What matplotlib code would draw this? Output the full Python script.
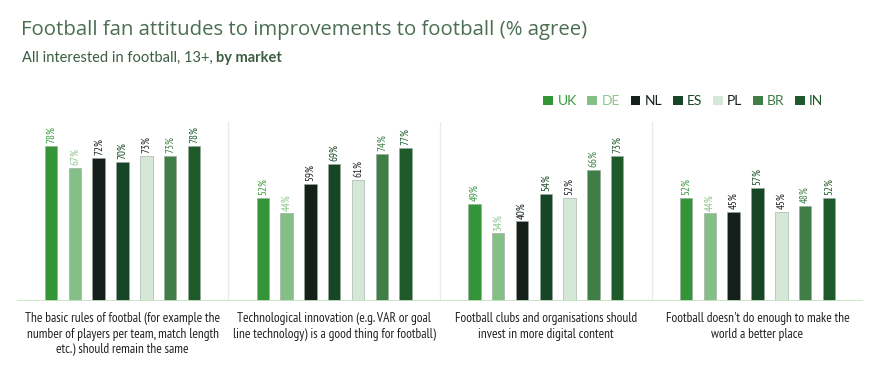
import matplotlib
matplotlib.use("Agg")
import matplotlib.pyplot as plt
from matplotlib import font_manager
import numpy as np

markets = ["UK", "DE", "NL", "ES", "PL", "BR", "IN"]
categories = [
    "The basic rules of footbal (for example the\nnumber of players per team, match length\netc.) should remain the same",
    "Technological innovation (e.g. VAR or goal\nline technology) is a good thing for football)",
    "Football clubs and organisations should\ninvest in more digital content",
    "Football doesn't do enough to make the\nworld a better place",
]
values = {
    "UK": [78, 52, 49, 52],
    "DE": [67, 44, 34, 44],
    "NL": [72, 59, 40, 45],
    "ES": [70, 69, 54, 57],
    "PL": [73, 61, 52, 45],
    "BR": [73, 74, 66, 48],
    "IN": [78, 77, 73, 52],
}
bar_colors = ["#339438", "#84bf87", "#15201a", "#164625", "#d5e8d8", "#3f7e47", "#1e5a2a"]
label_colors = ["#3a9a3e", "#8cc58f", "#15201a", "#164625", "#222222", "#3f7e47", "#1e5a2a"]

names = {f.name for f in font_manager.fontManager.ttflist}
cond = "Lato"
for cand in ["PT Sans Narrow", "Roboto Condensed", "Archivo Narrow", "Open Sans Condensed",
             "Barlow Semi Condensed", "Fira Sans Condensed", "Encode Sans Condensed", "Asap Condensed"]:
    if cand in names:
        cond = cand
        break

fig = plt.figure(figsize=(8.77, 3.67), dpi=100)
ax = fig.add_axes([16.7 / 877, 1 - 301 / 367, (863.3 - 16.7) / 877, 179 / 367])

# fit font sizes to reference text widths
fig.canvas.draw()
r = fig.canvas.get_renderer()
probe = fig.text(0, 0, categories[0].split("\n")[0], fontsize=10, family=cond)
w10 = probe.get_window_extent(r).width
probe.remove()
cat_fs = 10 * 198 / w10
probe = fig.text(0, 0, "78%", fontsize=10, family=cond)
w78 = probe.get_window_extent(r).width
probe.remove()
val_fs = min(10 * 17 / w78, 12)

spacing = 23.8 / 211.7
bw = 12.5 / 211.7
x = np.arange(len(categories)) + 0.5
for i, m in enumerate(markets):
    xs = x + (i - 3) * spacing
    vals = values[m]
    ax.bar(xs, vals, width=bw, color=bar_colors[i], edgecolor="#9aa89c", linewidth=0.4, label=m, zorder=3)
    for xi, v in zip(xs, vals):
        ax.text(xi, v + 1.3, f"{v}%", rotation=90, ha="center", va="bottom",
                fontsize=val_fs, color=label_colors[i], family=cond)

ax.set_xlim(0, len(categories))
ax.set_ylim(0, 90)
for s in ax.spines.values():
    s.set_visible(False)
ax.axhline(0, color="#c8e3c8", lw=1.3, zorder=4)
for b in range(1, len(categories)):
    ax.axvline(b, ymin=0, ymax=1, color="#e3efe3", lw=0.9, zorder=1)
ax.set_yticks([])
ax.set_xticks(x)
ax.set_xticklabels(categories, fontsize=cat_fs, family=cond, color="#222222", linespacing=1.25)
ax.tick_params(axis="x", length=0, pad=8)

leg = ax.legend(ncol=7, loc="center left", bbox_to_anchor=((531 - 16.7) / 846.6, 1.115), frameon=False,
                handlelength=0.7, handleheight=0.7, handletextpad=0.3, columnspacing=0.78,
                prop={"family": "Lato", "size": 10}, labelcolor=label_colors[:4] + ["#15201a"] + label_colors[5:])
for h in leg.legend_handles:
    h.set_linewidth(0)

fig.text(21 / 877, 1 - 30 / 367, "Football fan attitudes to improvements to football (% agree)",
         fontsize=14.7, family="Open Sans", color="#4b6e52", va="center", ha="left")
t1 = fig.text(22 / 877, 1 - 58 / 367, "All interested in football, 13+, ", fontsize=10.5, family="Lato",
              color="#3b5e42", va="center", ha="left")
fig.canvas.draw()
bb = t1.get_window_extent()
fig.text(bb.x1 / 877, 1 - 58 / 367, "by market", fontsize=10.5, family="Lato", weight="bold",
         color="#3b5e42", va="center", ha="left")

fig.savefig("out.png", dpi=100)
